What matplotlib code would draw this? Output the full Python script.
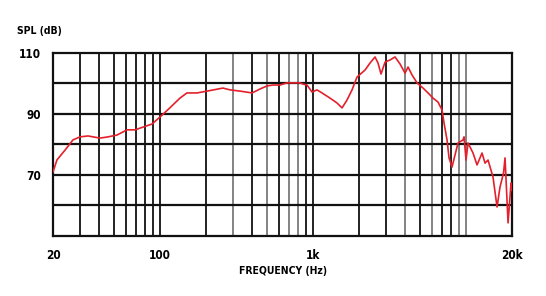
import matplotlib
matplotlib.use("Agg")
import matplotlib.pyplot as plt

# SPL response
freq_hz = [20, 21.2, 24.0, 27.0, 30.0, 33.9, 36.5, 40.6, 45.8, 52.4, 60.9, 68.7, 77.5, 88.7,
           100, 116, 135, 150, 175, 203, 258, 287, 334, 400, 451, 501, 548, 609, 677, 741,
           823, 861, 914, 986, 1063, 1146, 1293, 1436, 1549, 1670, 1800, 1940, 2188, 2360,
           2544, 2662, 2784, 2958, 3188, 3438, 3707, 3997, 4181, 4440, 4786, 5240, 5650,
           6092, 6568, 6977, 7188, 7520, 7750, 8108, 8482, 8872, 9566, 9712, 10008, 10314,
           11118, 11810, 12734, 13322, 13936, 15026, 15960, 16698, 17600, 18000, 18838, 19704, 20000]
spl_db = [71.0, 74.9, 78.2, 81.5, 82.5, 82.8, 82.5, 82.1, 82.5, 83.1, 84.8, 84.8, 85.7, 86.7,
          89.0, 92.0, 95.2, 96.9, 96.9, 97.5, 98.5, 97.9, 97.5, 96.9, 98.2, 99.2, 99.5, 99.5,
          100.2, 100.2, 100.2, 99.8, 99.5, 97.2, 97.9, 96.9, 95.2, 93.6, 92.0, 94.6, 97.9,
          102.1, 104.4, 106.7, 108.7, 106.7, 103.1, 107.0, 107.7, 108.7, 106.4, 103.4, 105.4,
          102.8, 100.2, 98.5, 96.9, 95.2, 93.9, 91.3, 87.0, 81.5, 75.6, 72.6, 76.6, 80.5,
          81.5, 82.5, 74.9, 80.5, 77.2, 73.3, 77.2, 73.9, 74.9, 69.3, 59.5, 66.1, 70.7, 75.6,
          54.3, 67.4, 65.0]

x_ticks = [20, 100, 1000, 20000]
x_ticklabels = ["20", "100", "1k", "20k"]
y_ticks = [70, 90, 110]
y_ticklabels = ["70", "90", "110"]
h_grid = [60, 70, 80, 90, 100]
v_black = [30, 40, 50, 60, 70, 80, 90, 100, 200, 400, 600, 900, 1000,
           2000, 3000, 5000, 7000, 8000]
v_grey = [300, 500, 700, 800, 4000, 6000, 9000, 10000]

txt = dict(family="DejaVu Sans", stretch="condensed", fontweight="bold")

fig = plt.figure(figsize=(5.46, 2.96), dpi=100)
ax = fig.add_axes([0.0971, 0.2027, 0.8407, 0.6183])
ax.set_xscale("log")
ax.set_xlim(20, 20000)
ax.set_ylim(50, 110)

for v in v_black:
    ax.axvline(v, color="#111111", lw=1.3, zorder=1)
for v in v_grey:
    ax.axvline(v, color="#7a7a7a", lw=1.3, zorder=1)
for h in h_grid:
    ax.axhline(h, color="#111111", lw=1.6, zorder=1)

ax.plot(freq_hz, spl_db, color="#e3202b", lw=1.2, zorder=3)

for s in ax.spines.values():
    s.set_linewidth(1.6)
    s.set_color("#111111")

ax.xaxis.set_minor_locator(matplotlib.ticker.NullLocator())
ax.set_xticks(x_ticks)
ax.set_xticklabels(x_ticklabels, **txt)
ax.set_yticks(y_ticks)
ax.set_yticklabels(y_ticklabels, **txt)
ax.tick_params(length=0, pad=9, labelsize=8.5)

ax.set_xlabel("FREQUENCY (Hz)", fontsize=7.5, labelpad=3, **txt)
fig.text(0.031, 0.895, "SPL (dB)", fontsize=7.5, va="center", **txt)

fig.savefig("out.png", dpi=100, facecolor="white")
